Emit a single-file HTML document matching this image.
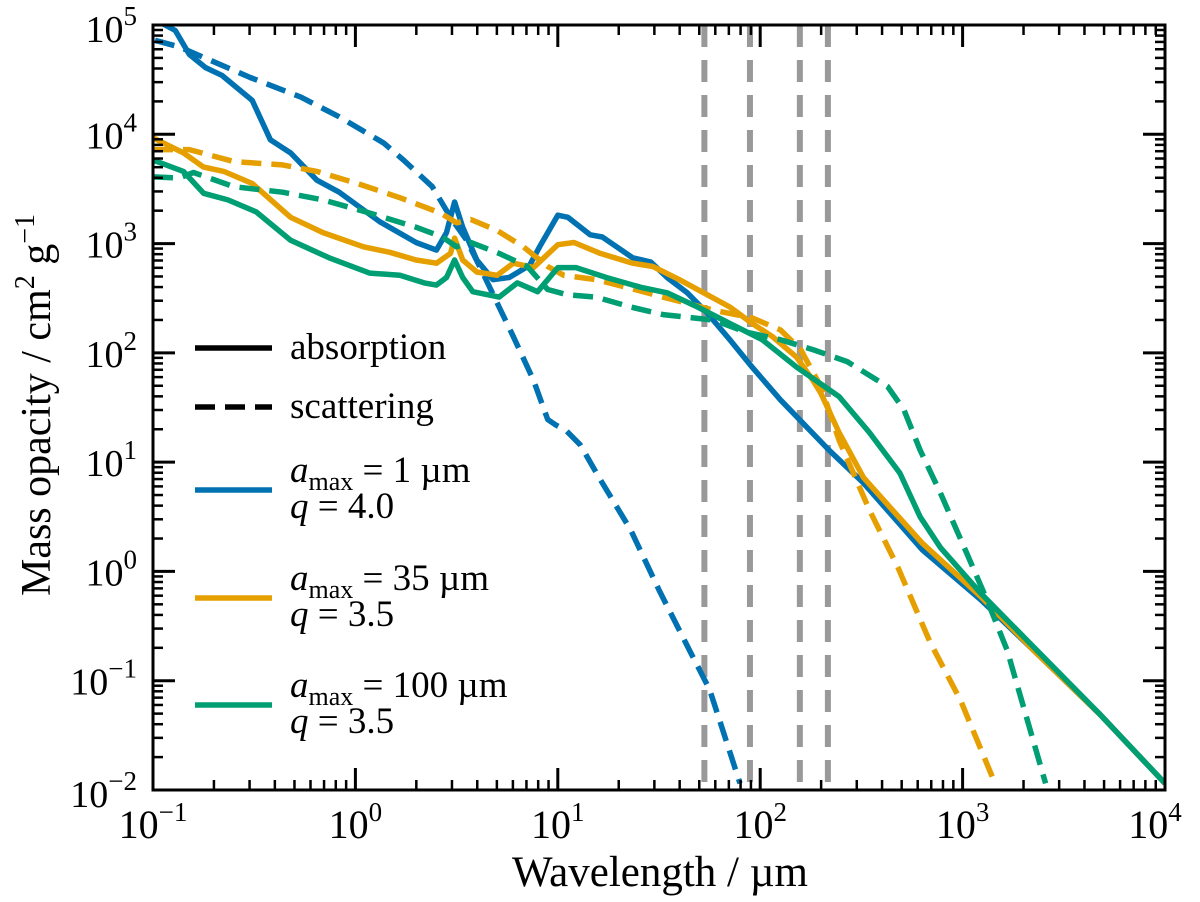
<!DOCTYPE html>
<html><head><meta charset="utf-8"><style>
html,body{margin:0;padding:0;background:#fff}
svg{display:block}
text{font-family:"Liberation Serif",serif;fill:#000}
</style></head><body>
<svg id="chart" width="1200" height="902" viewBox="0 0 1200 902" xmlns="http://www.w3.org/2000/svg" font-family="Liberation Serif, serif">
<g id="plot"></g>
<g id="axes"></g>
<g id="legend"></g>
</svg>
<script>
// data in log10 units: wavelength (um) and mass opacity (cm^2/g)
const blueAbsX=[-1.00,-0.89,-0.82,-0.74,-0.66,-0.51,-0.42,-0.32,-0.19,-0.08,0.12,0.30,0.40,0.45,0.49,0.53,0.60,0.68,0.76,0.86,0.91,1.00,1.05,1.16,1.22,1.37,1.46,1.54,1.64,1.74,1.85,1.96,2.10,2.34,2.51,2.80,3.09,3.35,3.68,4.00];
const blueAbsY=[5.06,4.95,4.73,4.61,4.54,4.31,3.95,3.83,3.58,3.47,3.20,3.01,2.94,3.10,3.38,3.15,2.85,2.67,2.69,2.80,2.97,3.26,3.24,3.08,3.06,2.87,2.83,2.69,2.55,2.36,2.12,1.87,1.57,1.11,0.81,0.20,-0.26,-0.72,-1.31,-1.94];
const blueScaX=[-0.99,-0.87,-0.72,-0.52,-0.27,-0.08,0.14,0.24,0.38,0.47,0.55,0.63,0.71,0.78,0.88,0.95,0.99,1.04,1.11,1.21,1.36,1.50,1.65,1.75,1.90];
const blueScaY=[4.86,4.80,4.68,4.52,4.34,4.16,3.92,3.76,3.52,3.24,3.03,2.73,2.42,2.15,1.75,1.39,1.34,1.29,1.16,0.84,0.38,-0.17,-0.72,-1.08,-1.94];
const orangeAbsX=[-1.00,-0.98,-0.85,-0.75,-0.65,-0.51,-0.32,-0.16,0.04,0.17,0.30,0.40,0.47,0.49,0.53,0.60,0.70,0.78,0.88,1.00,1.08,1.21,1.37,1.47,1.60,1.74,1.85,1.96,2.06,2.18,2.26,2.30,2.39,2.51,2.64,2.80,3.09,3.35,3.68,4.00];
const orangeAbsY=[3.97,3.95,3.83,3.70,3.66,3.55,3.24,3.10,2.97,2.92,2.85,2.82,2.91,3.05,2.85,2.74,2.71,2.82,2.78,2.99,3.01,2.91,2.82,2.79,2.67,2.53,2.42,2.27,2.15,1.96,1.75,1.63,1.27,0.86,0.59,0.26,-0.23,-0.72,-1.31,-1.94];
const orangeScaX=[-1.00,-0.82,-0.60,-0.36,-0.19,0.01,0.22,0.42,0.50,0.57,0.70,0.83,0.95,1.03,1.19,1.36,1.52,1.77,1.96,2.10,2.20,2.30,2.39,2.54,2.68,2.84,2.99,3.16];
const orangeScaY=[3.86,3.86,3.75,3.72,3.66,3.55,3.42,3.28,3.19,3.22,3.12,2.97,2.79,2.71,2.67,2.59,2.51,2.39,2.32,2.21,2.03,1.69,1.20,0.56,0.04,-0.65,-1.18,-1.94];
const greenAbsX=[-1.00,-0.98,-0.85,-0.75,-0.63,-0.49,-0.32,-0.13,0.07,0.22,0.34,0.40,0.45,0.49,0.53,0.58,0.71,0.80,0.90,1.00,1.09,1.24,1.41,1.54,1.69,1.85,2.01,2.18,2.39,2.54,2.69,2.79,2.89,3.09,3.35,3.68,4.00];
const greenAbsY=[3.76,3.75,3.66,3.46,3.40,3.29,3.03,2.87,2.73,2.71,2.64,2.62,2.69,2.85,2.69,2.56,2.51,2.64,2.56,2.78,2.78,2.69,2.60,2.55,2.42,2.27,2.12,1.87,1.60,1.27,0.90,0.50,0.22,-0.20,-0.69,-1.31,-1.94];
const greenScaX=[-1.00,-0.87,-0.80,-0.60,-0.36,-0.16,0.07,0.30,0.43,0.50,0.57,0.71,0.85,0.95,1.05,1.19,1.36,1.52,1.77,1.93,2.10,2.26,2.43,2.63,2.71,2.79,2.89,3.02,3.12,3.22,3.41];
const greenScaY=[3.61,3.60,3.65,3.52,3.47,3.40,3.28,3.15,3.06,2.97,3.01,2.91,2.79,2.58,2.53,2.51,2.42,2.35,2.30,2.19,2.12,2.03,1.92,1.69,1.48,1.11,0.72,0.17,-0.26,-0.72,-1.94];
const markerWavelengths=[53,89,157,216];
const xTickExps=[-1,0,1,2,3,4];
const yTickExps=[-2,-1,0,1,2,3,4,5];

const L=153,R=1165,T=25,B=790;
const X0=-1,X1=4,Y0=-2,Y1=5;
const sx=v=>L+(v-X0)/(X1-X0)*(R-L);
const sy=v=>B-(v-Y0)/(Y1-Y0)*(B-T);
const NS="http://www.w3.org/2000/svg";
function mk(tag,attrs,parent){const e=document.createElementNS(NS,tag);for(const k in attrs)e.setAttribute(k,attrs[k]);parent.appendChild(e);return e;}
const plot=document.getElementById('plot'),axes=document.getElementById('axes'),leg=document.getElementById('legend');
const defs=mk('defs',{},plot);
const cp=mk('clipPath',{id:'clip'},defs);
mk('rect',{x:L,y:T,width:R-L,height:B-T},cp);
const g=mk('g',{'clip-path':'url(#clip)'},plot);

markerWavelengths.forEach((w,i)=>{
  const x=sx(Math.log10(w));
  const ln=mk('line',{x1:x,x2:x,y1:T,y2:B,stroke:'#999',"stroke-width":6,"stroke-dasharray":"22 13"},g);
  
  
});
const series=[
 ['blue-absorption',blueAbsX,blueAbsY,'#0072B2',false],
 ['blue-scattering',blueScaX,blueScaY,'#0072B2',true],
 ['orange-absorption',orangeAbsX,orangeAbsY,'#E69F00',false],
 ['orange-scattering',orangeScaX,orangeScaY,'#E69F00',true],
 ['green-absorption',greenAbsX,greenAbsY,'#009E73',false],
 ['green-scattering',greenScaX,greenScaY,'#009E73',true]];
series.forEach(s=>{
  const d=s[1].map((v,i)=>(i?'L':'M')+sx(v).toFixed(1)+','+sy(s[2][i]).toFixed(1)).join('');
  const a={d:d,fill:'none',stroke:s[3],'stroke-width':5.5,'stroke-linejoin':'round'};
  if(s[4])a['stroke-dasharray']='20 10';
  const p=mk('path',a,g);
  
  
});

const fr=mk('rect',{x:L,y:T,width:R-L,height:B-T,fill:'none',stroke:'#000','stroke-width':3},axes);


function tick(x1,y1,x2,y2,w){mk('line',{x1:x1,y1:y1,x2:x2,y2:y2,stroke:'#000','stroke-width':w},axes);}
for(let e=X0;e<X1;e++){for(let m=1;m<10;m++){const x=sx(e+Math.log10(m));const len=m==1?22:10,w=m==1?3:2.5;tick(x,B,x,B-len,w);tick(x,T,x,T+len,w);}}
for(let e=Y0;e<Y1;e++){for(let m=1;m<10;m++){const y=sy(e+Math.log10(m));const len=m==1?22:10,w=m==1?3:2.5;tick(L,y,L+len,y,w);tick(R,y,R-len,y,w);}}
xTickExps.forEach(e=>{
  const t=mk('text',{x:sx(e)+(e==X1?-10:0),y:838,'font-size':40,'text-anchor':'middle'},axes);
  t.innerHTML='10<tspan dy="-17" font-size="27">'+(e<0?'\u2212'+(-e):e)+'</tspan>';
  
  
});
yTickExps.forEach(e=>{
  const t=mk('text',{x:137,y:sy(e)+(e==Y0?17:e==Y1?17:14),'font-size':38,'text-anchor':'end'},axes);
  t.innerHTML='10<tspan dy="-17" font-size="27">'+(e<0?'\u2212'+(-e):e)+'</tspan>';
  
  
});
const xl=mk('text',{x:660,y:886,'font-size':43,'text-anchor':'middle'},axes);
xl.textContent='Wavelength / \u00b5m';


const yl=mk('text',{x:0,y:0,'font-size':42,'text-anchor':'middle',transform:'translate(50,405) rotate(-90)'},axes);
yl.innerHTML='Mass opacity / cm<tspan dy="-16" font-size="28">2</tspan><tspan dy="16"> g</tspan><tspan dy="-16" font-size="28">\u22121</tspan>';



const legItems=[
 {y:348,c:'#000',dash:false,lines:['absorption'],name:'legend-absorption'},
 {y:407,c:'#000',dash:true,lines:['scattering'],name:'legend-scattering'},
 {y:490,c:'#0072B2',dash:false,lines:['<tspan font-style="italic">a</tspan><tspan font-size="26" dy="8">max</tspan><tspan dy="-8"> = 1 \u00b5m</tspan>','<tspan font-style="italic">q</tspan> = 4.0'],name:'legend-amax-1'},
 {y:598,c:'#E69F00',dash:false,lines:['<tspan font-style="italic">a</tspan><tspan font-size="26" dy="8">max</tspan><tspan dy="-8"> = 35 \u00b5m</tspan>','<tspan font-style="italic">q</tspan> = 3.5'],name:'legend-amax-35'},
 {y:705,c:'#009E73',dash:false,lines:['<tspan font-style="italic">a</tspan><tspan font-size="26" dy="8">max</tspan><tspan dy="-8"> = 100 \u00b5m</tspan>','<tspan font-style="italic">q</tspan> = 3.5'],name:'legend-amax-100'}];
legItems.forEach(it=>{
  const gg=mk('g',{},leg);
  
  
  const a={x1:195,x2:272,y1:it.y,y2:it.y,stroke:it.c,'stroke-width':5.5};
  if(it.dash)a['stroke-dasharray']='20 10';
  mk('line',a,gg);
  if(it.lines.length==1){
    const t=mk('text',{x:290,y:it.y+11,'font-size':37},gg);t.innerHTML=it.lines[0];
  }else{
    const t1=mk('text',{x:290,y:it.y-8,'font-size':37},gg);t1.innerHTML=it.lines[0];
    const t2=mk('text',{x:290,y:it.y+28,'font-size':37},gg);t2.innerHTML=it.lines[1];
  }
});
</script>
</body></html>
